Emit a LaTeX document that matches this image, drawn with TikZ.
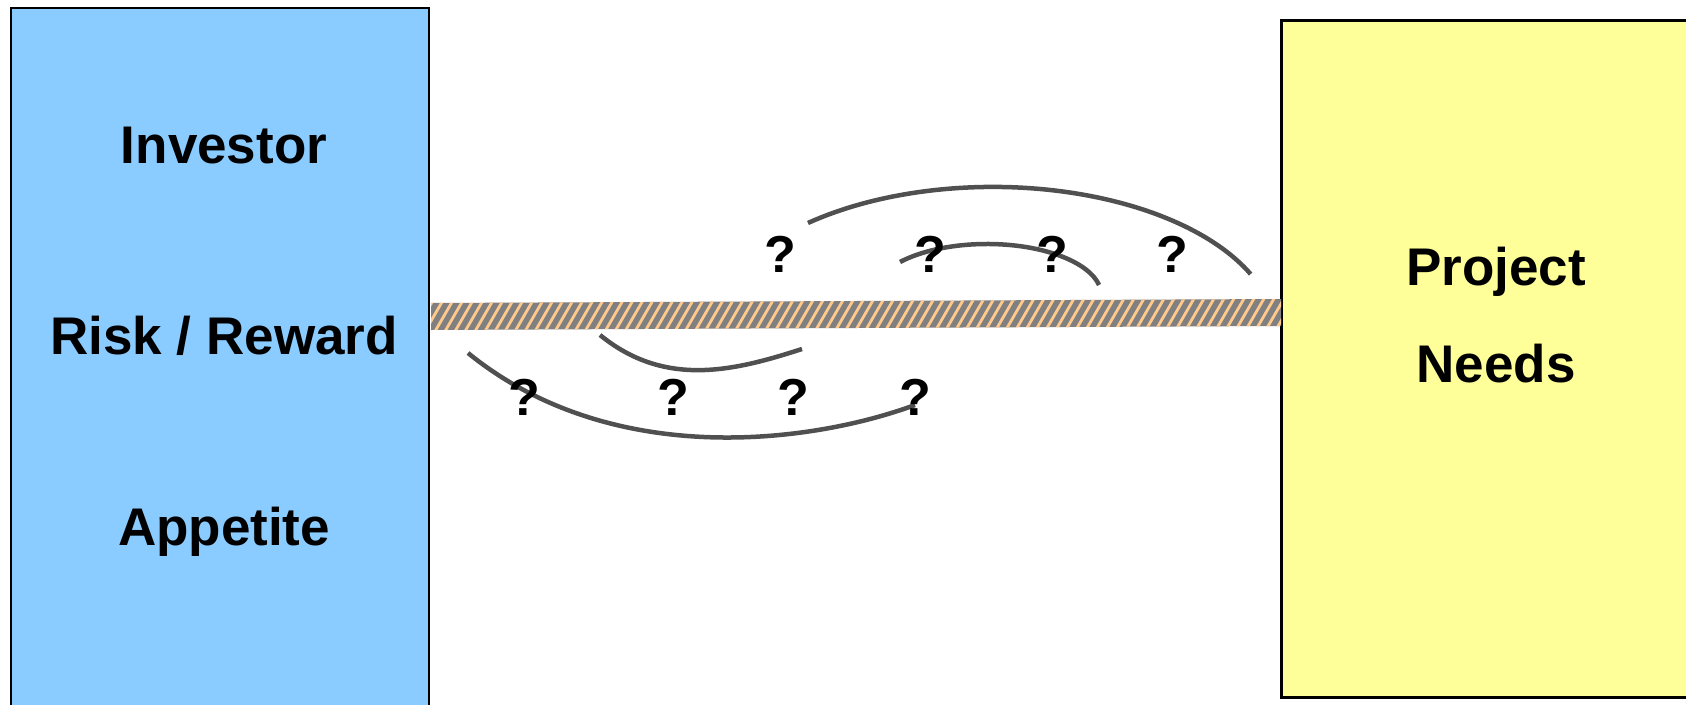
\documentclass[tikz,border=0pt]{standalone}
\usepackage{fontspec}
\setmainfont{Liberation Sans}
\usetikzlibrary{positioning}
\definecolor{investorColor}{RGB}{138,204,255}
\definecolor{projectColor}{RGB}{255,255,153}
\definecolor{hatchColor}{RGB}{128,128,128}
\definecolor{hatchColorBis}{RGB}{255,200,140}
\definecolor{arcColor}{RGB}{80,80,80}

\begin{document}
\begin{tikzpicture}[x=1pt,y=-1pt]

          \tikzstyle{boxEdge} = [draw=black, line width=2pt];
          \tikzstyle{bigText} = [inner sep=0pt, anchor=base, font=\fontsize{53}{60}\selectfont\bfseries];
          \tikzstyle{askNode} = [inner sep=0pt, anchor=base, font=\fontsize{52}{60}\selectfont\bfseries];
          \tikzstyle{arcEdge} = [arcColor, line width=4.5pt];

          \useasboundingbox (0,0) rectangle (1686,704);
          \clip (0,0) rectangle (1686,704);

          % boxes
          \draw[boxEdge, fill=investorColor] (11,8) rectangle (429,720);
          \draw[boxEdge, line width=3pt, fill=projectColor] (1281,20) rectangle (1700,697);

          % hatched bar
          \fill[hatchColor] (431,303) -- (1281,299) -- (1281,326) -- (431,330) -- cycle;
          \begin{scope}
            \clip (431,303) -- (1281,299) -- (1281,326) -- (431,330) -- cycle;
            \foreach \x in {390,400,...,1300}
              \draw[hatchColorBis, line width=2.8pt] (\x,340) -- (\x+29,290);
          \end{scope}

          \node[bigText] (investor) at (224,163) {Investor};
          \node[bigText] (risk) at (224,354) {Risk / Reward};
          \node[bigText] (appetite) at (224,545) {Appetite};
          \node[bigText] (project) at (1496,285) {Project};
          \node[bigText] (needs) at (1496,382) {Needs};

          % arcs
          \coordinate (bigUp) at (808,223);
          \coordinate (smallUp) at (900,262);
          \coordinate (smallDown) at (600,335);
          \coordinate (smallDownEnd) at (802,349);
          \coordinate (bigDown) at (468,353);
          \coordinate (bigDownEnd) at (915,405);

          \draw[arcEdge] (bigUp) arc[start angle=130.8, end angle=24.4, x radius=283pt, y radius=148.5pt];
          \draw[arcEdge] (smallUp) arc[start angle=139.6, end angle=11.5, x radius=114.3pt, y radius=51.2pt];
          \draw[arcEdge] (smallDown) .. controls (665,388) and (734,371) .. (smallDownEnd);
          \draw[arcEdge] (bigDown) .. controls (612,470) and (812,443) .. (bigDownEnd);

          \foreach \x/\n in {780/a, 930/b, 1052/c, 1172/d}
            \node[askNode] (upAsk\n) at (\x,272) {?};
          \foreach \x/\n in {524/a, 673/b, 793/c, 915/d}
            \node[askNode] (downAsk\n) at (\x,415) {?};

\end{tikzpicture}
\end{document}
